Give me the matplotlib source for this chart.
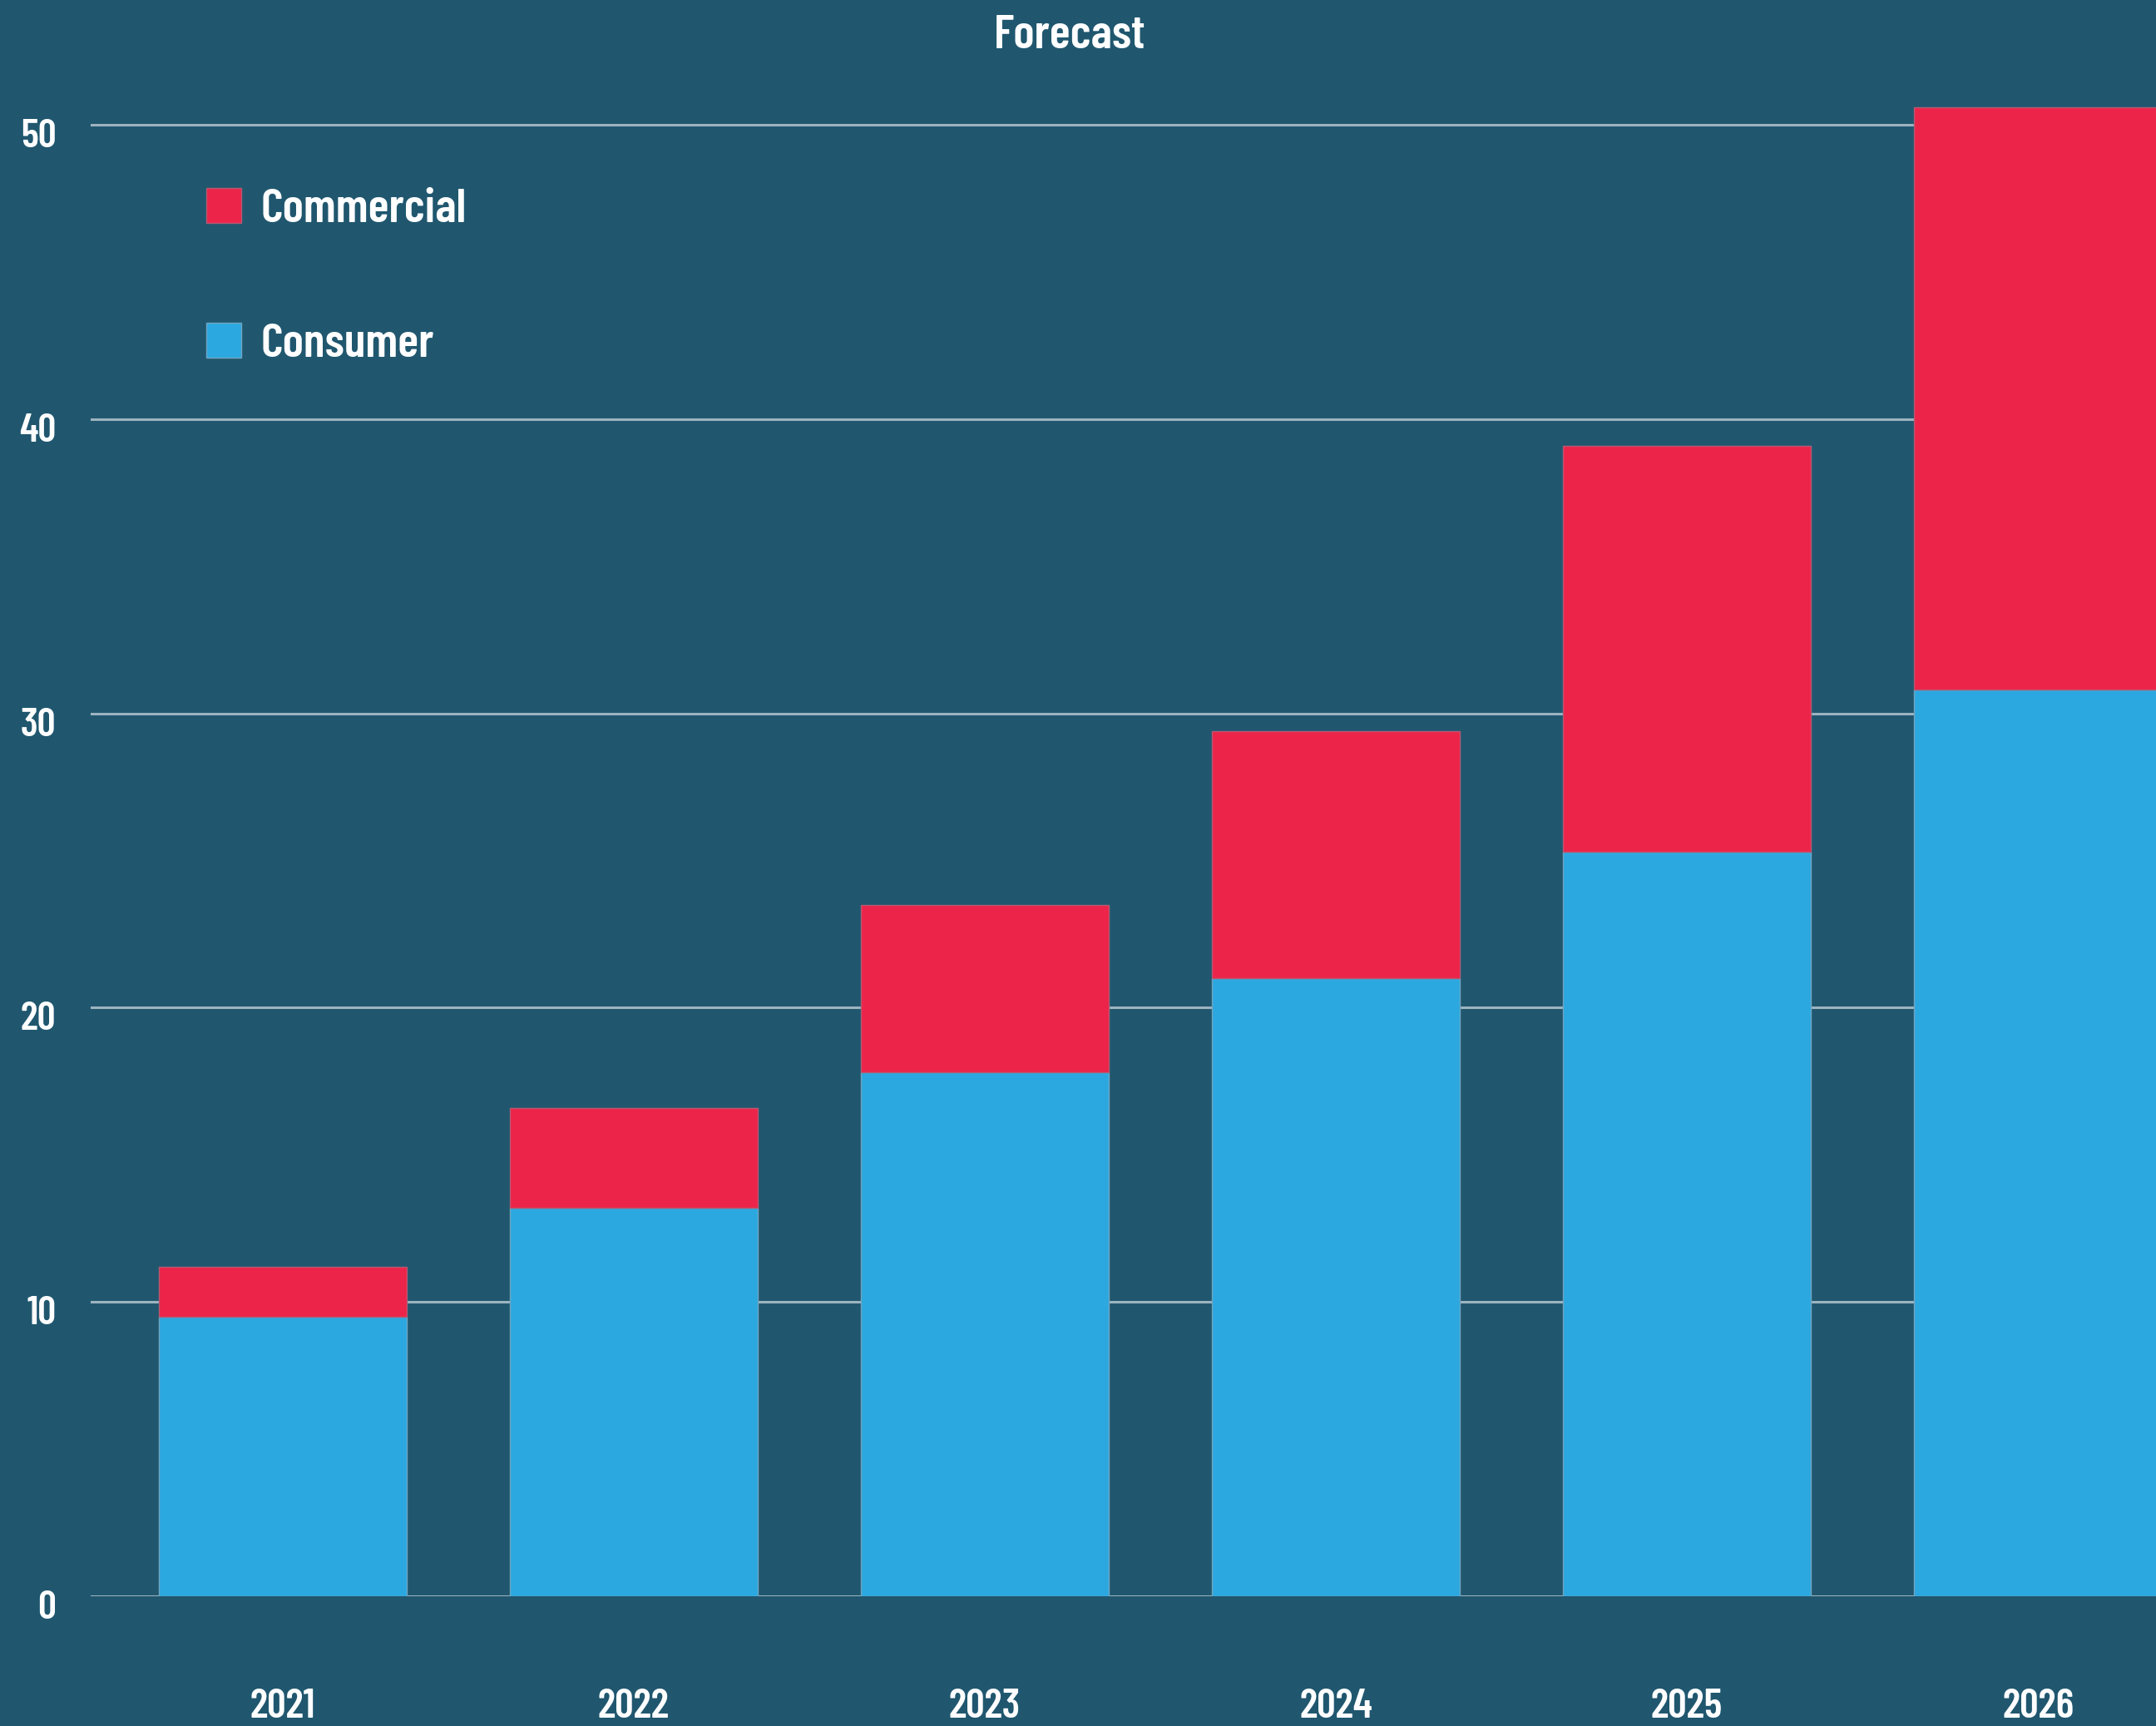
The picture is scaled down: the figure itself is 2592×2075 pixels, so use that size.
import matplotlib
matplotlib.use("Agg")
import matplotlib.pyplot as plt
import matplotlib.transforms as mtransforms
from matplotlib.patches import Patch
import numpy as np

years = ["2021", "2022", "2023", "2024", "2025", "2026"]
consumer = [9.5, 13.2, 17.8, 21.0, 25.3, 30.8]
commercial = [1.7, 3.4, 5.7, 8.4, 13.8, 19.8]
yticks = [0, 10, 20, 30, 40, 50]

BG = "#20576f"
RED = "#ec2449"
BLUE = "#2ca8e0"
GRID = "#9db3c0"
FONT = ["Barlow Condensed", "Asap Condensed", "DejaVu Sans"]

plt.rcParams["font.family"] = FONT

W, H = 2592, 2075
fig = plt.figure(figsize=(W / 100, H / 100), dpi=100, facecolor=BG)
ax = fig.add_axes([109 / W, 1 - 1919 / H, 1 - 109 / W, (1919 - 44) / H])
ax.set_facecolor(BG)

x = np.arange(len(years))
bw = 0.705
ax.bar(x, consumer, width=bw, color=BLUE, edgecolor="#6fa5c0", linewidth=1, zorder=2)
ax.bar(x, commercial, bottom=consumer, width=bw, color=RED, edgecolor="#b45a72", linewidth=1, zorder=2)

ax.set_xlim(-0.547, 5.336)
ax.set_ylim(0, 53)
ax.set_yticks(yticks)
ax.set_yticklabels([str(t) for t in yticks])
ax.set_xticks(x)
ax.set_xticklabels(years)

ax.yaxis.grid(True, color=GRID, linewidth=2.2, zorder=1)
ax.set_axisbelow(True)
ax.xaxis.grid(False)
for s in ax.spines.values():
    s.set_visible(False)

ax.tick_params(axis="y", length=0, pad=30, labelsize=35, labelcolor="white")
ax.tick_params(axis="x", length=0, pad=80, labelsize=36, labelcolor="white")
offset = mtransforms.ScaledTranslation(0, -10 / 100, fig.dpi_scale_trans)
for lab in ax.get_yticklabels():
    lab.set_fontweight("semibold")
    lab.set_transform(lab.get_transform() + offset)
for lab in ax.get_xticklabels():
    lab.set_fontweight("semibold")

fig.text(1286 / W, 1 - 43 / H, "Forecast", ha="center", va="center",
         color="white", fontsize=42, fontweight="semibold")

handles = [Patch(facecolor=RED, edgecolor="#b45a72", label="Commercial"),
           Patch(facecolor=BLUE, edgecolor="#6fa5c0", label="Consumer")]
leg = fig.legend(handles=handles, loc="upper left",
                 bbox_to_anchor=(248 / W, 1 - 226 / H), bbox_transform=fig.transFigure,
                 frameon=False, borderpad=0, borderaxespad=0,
                 handlelength=0.72, handleheight=0.72, handletextpad=0.4,
                 labelspacing=1.9, prop={"size": 42, "weight": "semibold", "family": FONT})
for t in leg.get_texts():
    t.set_color("white")

fig.savefig("out.png", dpi=100, facecolor=BG)
